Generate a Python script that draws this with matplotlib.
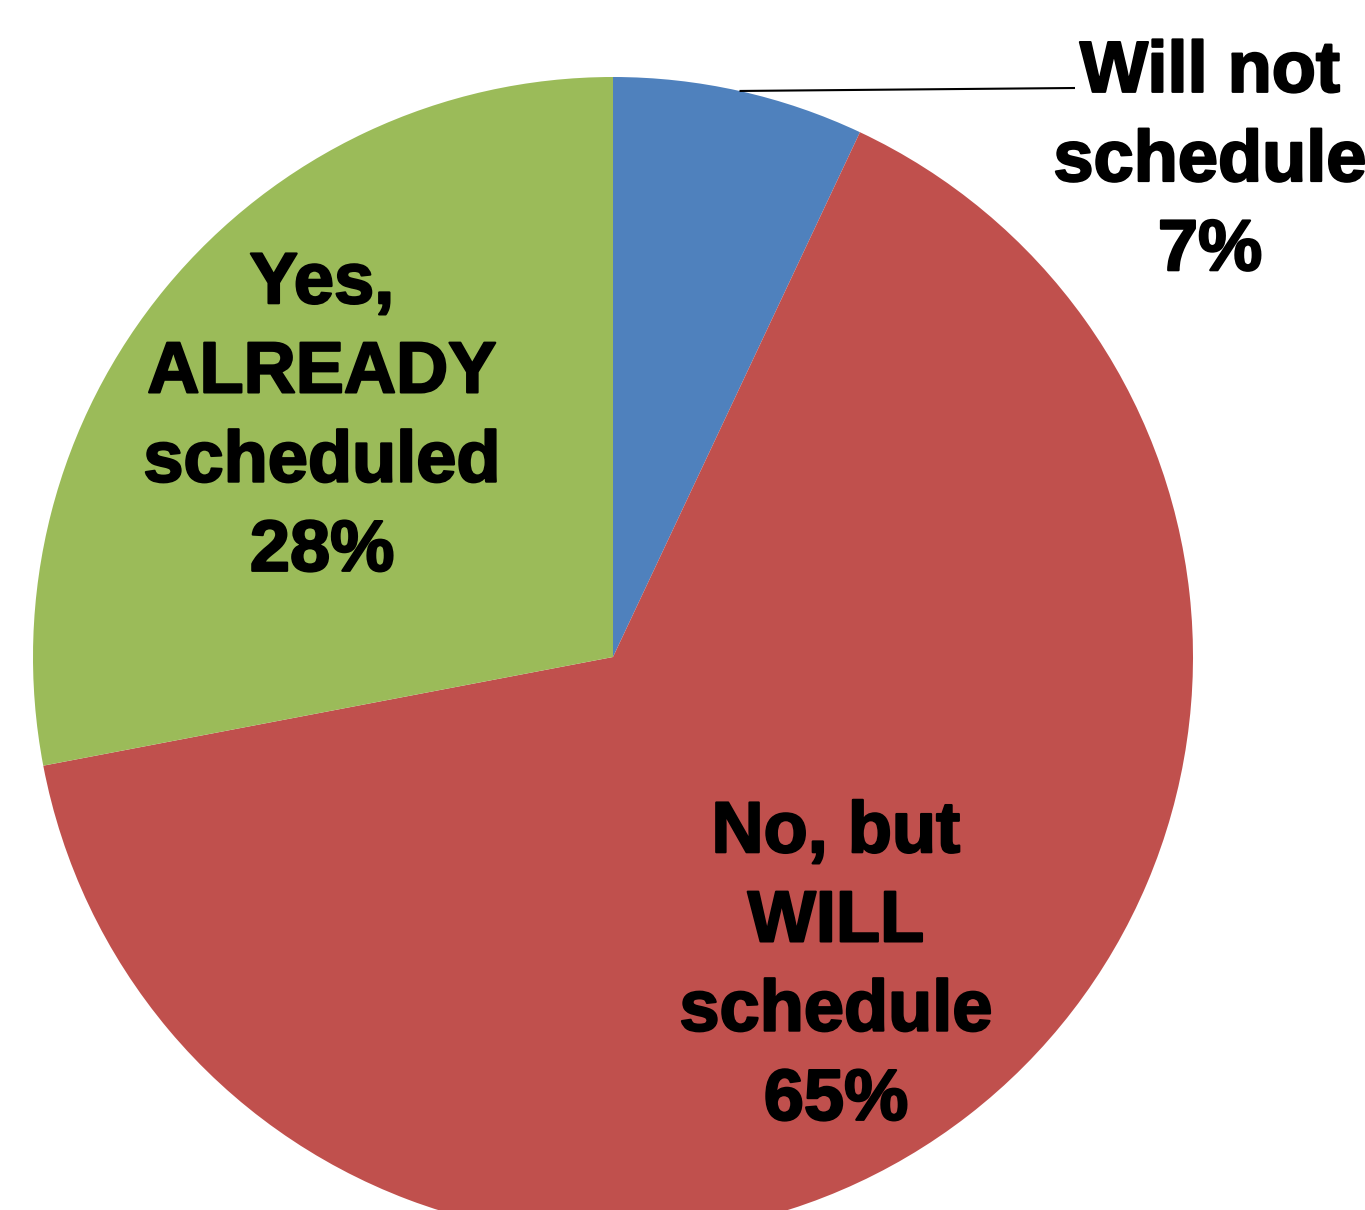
import numpy as np
import matplotlib.pyplot as plt
import matplotlib.patheffects as pe

categories = ["Will not\nschedule", "No, but\nWILL\nschedule", "Yes,\nALREADY\nscheduled"]
shares = [7, 65, 28]
colors = ["#4F81BD", "#C0504D", "#9BBB59"]

W, H = 1365, 1210
fig = plt.figure(figsize=(W / 100, H / 100), dpi=100)
ax = fig.add_axes([0, 0, 1, 1])

cx, cy, r = 613, H - 657, 580
wedges, _ = ax.pie(shares, colors=colors, startangle=90, counterclock=False,
                   center=(cx, cy), radius=r, wedgeprops=dict(linewidth=0))
ax.set_xlim(0, W)
ax.set_ylim(0, H)
ax.set_aspect("equal")
ax.axis("off")

# heavy bold labels, a thin stroke thickens the glyphs a little
font = dict(family=["Liberation Sans", "DejaVu Sans"], fontsize=52,
            fontweight="bold", ha="center", va="center", linespacing=1.4,
            path_effects=[pe.Stroke(linewidth=1.6, foreground="black"), pe.Normal()])

# label positions (pixels from top-left)
label_pos = [(1210, 162), (836, 967), (322, 418)]
for name, val, (px, py) in zip(categories, shares, label_pos):
    ax.text(px, H - py, f"{name}\n{val}%", **font)

# leader line from the middle of the small wedge to its outside label
mid = np.deg2rad(90 - shares[0] / sum(shares) * 360 / 2)
x0, y0 = cx + r * np.cos(mid), cy + r * np.sin(mid)
ax.plot([x0, 1075], [y0, H - 88], color="black", lw=1.5, solid_capstyle="butt")

fig.savefig("out.png", dpi=100)
